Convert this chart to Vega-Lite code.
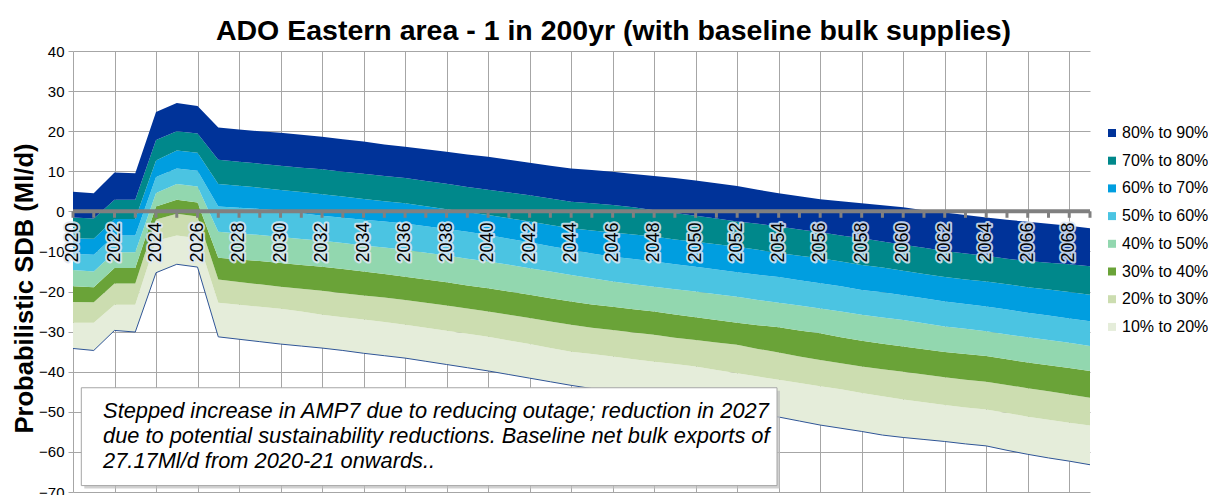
{
  "$schema": "https://vega.github.io/schema/vega-lite/v6.json",
  "width": 1017,
  "height": 441,
  "autosize": {"type": "none"},
  "padding": {"left": 73, "top": 51, "right": 118, "bottom": 3},
  "background": "white",
  "title": {
    "text": "ADO Eastern area - 1 in 200yr (with baseline bulk supplies)",
    "font": "Liberation Sans",
    "fontSize": 28.5,
    "fontWeight": "bold",
    "color": "#000000",
    "anchor": "middle",
    "dx": 32,
    "offset": -1
  },
  "config": {"font": "Liberation Sans", "view": {"stroke": null}},
  "datasets": {
    "sdb": [
      {"year": 2020, "p10": -34.2, "p20": -27.8, "p30": -22.6, "p40": -18.7, "p50": -14.6, "p60": -10.6, "p70": -6.7, "p80": -1.5, "p90": 4.9},
      {"year": 2021, "p10": -34.7, "p20": -27.8, "p30": -22.7, "p40": -18.9, "p50": -15.0, "p60": -10.8, "p70": -6.8, "p80": -1.8, "p90": 4.5},
      {"year": 2022, "p10": -29.7, "p20": -23.3, "p30": -18.0, "p40": -14.1, "p50": -10.2, "p60": -6.0, "p70": -1.9, "p80": 2.9, "p90": 9.7},
      {"year": 2023, "p10": -30.1, "p20": -23.3, "p30": -18.0, "p40": -14.1, "p50": -10.2, "p60": -6.0, "p70": -1.9, "p80": 2.9, "p90": 9.5},
      {"year": 2024, "p10": -15.3, "p20": -7.3, "p30": -2.0, "p40": 1.2, "p50": 4.6, "p60": 8.6, "p70": 12.7, "p80": 17.8, "p90": 24.8},
      {"year": 2025, "p10": -13.2, "p20": -6.0, "p30": -0.6, "p40": 2.9, "p50": 6.8, "p60": 10.7, "p70": 15.2, "p80": 20.0, "p90": 27.0},
      {"year": 2026, "p10": -13.9, "p20": -6.7, "p30": -1.3, "p40": 2.2, "p50": 6.2, "p60": 10.1, "p70": 14.6, "p80": 19.4, "p90": 26.3},
      {"year": 2027, "p10": -31.3, "p20": -22.8, "p30": -17.0, "p40": -11.6, "p50": -5.1, "p60": 1.2, "p70": 6.8, "p80": 12.9, "p90": 20.9},
      {"year": 2028, "p10": -31.9, "p20": -23.3, "p30": -17.6, "p40": -12.0, "p50": -5.5, "p60": 0.9, "p70": 6.4, "p80": 12.4, "p90": 20.4},
      {"year": 2029, "p10": -32.5, "p20": -23.8, "p30": -18.2, "p40": -12.4, "p50": -5.9, "p60": 0.6, "p70": 5.9, "p80": 11.9, "p90": 20.0},
      {"year": 2030, "p10": -33.1, "p20": -24.3, "p30": -18.8, "p40": -12.9, "p50": -6.4, "p60": 0.2, "p70": 5.3, "p80": 11.4, "p90": 19.6},
      {"year": 2031, "p10": -33.6, "p20": -25.0, "p30": -19.3, "p40": -13.4, "p50": -6.9, "p60": -0.5, "p70": 4.8, "p80": 10.9, "p90": 19.1},
      {"year": 2032, "p10": -34.1, "p20": -25.8, "p30": -19.8, "p40": -13.8, "p50": -7.3, "p60": -1.1, "p70": 4.3, "p80": 10.5, "p90": 18.6},
      {"year": 2033, "p10": -34.7, "p20": -26.4, "p30": -20.4, "p40": -14.4, "p50": -7.9, "p60": -1.6, "p70": 3.7, "p80": 9.9, "p90": 18.0},
      {"year": 2034, "p10": -35.4, "p20": -27.0, "p30": -21.0, "p40": -15.0, "p50": -8.5, "p60": -2.1, "p70": 3.1, "p80": 9.4, "p90": 17.4},
      {"year": 2035, "p10": -36.0, "p20": -27.6, "p30": -21.5, "p40": -15.6, "p50": -9.0, "p60": -2.5, "p70": 2.5, "p80": 8.8, "p90": 16.7},
      {"year": 2036, "p10": -36.6, "p20": -28.3, "p30": -22.1, "p40": -16.3, "p50": -9.6, "p60": -3.0, "p70": 2.0, "p80": 8.3, "p90": 16.1},
      {"year": 2037, "p10": -37.4, "p20": -29.0, "p30": -22.8, "p40": -17.0, "p50": -10.3, "p60": -3.7, "p70": 1.3, "p80": 7.6, "p90": 15.5},
      {"year": 2038, "p10": -38.2, "p20": -29.8, "p30": -23.5, "p40": -17.7, "p50": -11.0, "p60": -4.4, "p70": 0.5, "p80": 6.9, "p90": 14.9},
      {"year": 2039, "p10": -39.0, "p20": -30.5, "p30": -24.2, "p40": -18.5, "p50": -11.8, "p60": -5.1, "p70": -0.2, "p80": 6.1, "p90": 14.2},
      {"year": 2040, "p10": -39.8, "p20": -31.3, "p30": -25.0, "p40": -19.2, "p50": -12.5, "p60": -5.9, "p70": -0.9, "p80": 5.4, "p90": 13.6},
      {"year": 2041, "p10": -40.7, "p20": -32.2, "p30": -25.8, "p40": -20.0, "p50": -13.3, "p60": -6.8, "p70": -1.7, "p80": 4.7, "p90": 12.9},
      {"year": 2042, "p10": -41.6, "p20": -33.1, "p30": -26.6, "p40": -20.8, "p50": -14.2, "p60": -7.7, "p70": -2.5, "p80": 4.0, "p90": 12.1},
      {"year": 2043, "p10": -42.5, "p20": -34.1, "p30": -27.5, "p40": -21.7, "p50": -15.0, "p60": -8.7, "p70": -3.4, "p80": 3.2, "p90": 11.4},
      {"year": 2044, "p10": -43.4, "p20": -35.0, "p30": -28.3, "p40": -22.5, "p50": -15.9, "p60": -9.6, "p70": -4.2, "p80": 2.4, "p90": 10.7},
      {"year": 2045, "p10": -44.2, "p20": -35.6, "p30": -29.0, "p40": -23.2, "p50": -16.7, "p60": -10.5, "p70": -4.8, "p80": 2.0, "p90": 10.3},
      {"year": 2046, "p10": -45.0, "p20": -36.2, "p30": -29.6, "p40": -23.8, "p50": -17.5, "p60": -11.3, "p70": -5.3, "p80": 1.6, "p90": 9.9},
      {"year": 2047, "p10": -45.8, "p20": -36.9, "p30": -30.2, "p40": -24.4, "p50": -18.2, "p60": -11.9, "p70": -5.8, "p80": 1.0, "p90": 9.3},
      {"year": 2048, "p10": -46.6, "p20": -37.5, "p30": -30.8, "p40": -25.0, "p50": -18.8, "p60": -12.5, "p70": -6.3, "p80": 0.3, "p90": 8.8},
      {"year": 2049, "p10": -47.4, "p20": -38.1, "p30": -31.5, "p40": -25.7, "p50": -19.4, "p60": -13.2, "p70": -7.0, "p80": -0.4, "p90": 8.3},
      {"year": 2050, "p10": -48.2, "p20": -38.7, "p30": -32.1, "p40": -26.4, "p50": -20.0, "p60": -13.8, "p70": -7.6, "p80": -1.1, "p90": 7.7},
      {"year": 2051, "p10": -49.0, "p20": -39.6, "p30": -32.7, "p40": -27.1, "p50": -20.7, "p60": -14.5, "p70": -8.2, "p80": -1.8, "p90": 7.0},
      {"year": 2052, "p10": -49.8, "p20": -40.4, "p30": -33.3, "p40": -27.8, "p50": -21.3, "p60": -15.2, "p70": -8.8, "p80": -2.5, "p90": 6.3},
      {"year": 2053, "p10": -50.6, "p20": -41.2, "p30": -34.3, "p40": -28.4, "p50": -22.1, "p60": -15.8, "p70": -9.6, "p80": -3.1, "p90": 5.4},
      {"year": 2054, "p10": -51.3, "p20": -42.0, "p30": -35.2, "p40": -28.9, "p50": -22.8, "p60": -16.4, "p70": -10.4, "p80": -3.8, "p90": 4.5},
      {"year": 2055, "p10": -52.3, "p20": -42.8, "p30": -36.2, "p40": -29.7, "p50": -23.5, "p60": -17.2, "p70": -11.1, "p80": -4.5, "p90": 3.8},
      {"year": 2056, "p10": -53.3, "p20": -43.6, "p30": -37.1, "p40": -30.4, "p50": -24.2, "p60": -17.9, "p70": -11.7, "p80": -5.2, "p90": 3.0},
      {"year": 2057, "p10": -54.1, "p20": -44.4, "p30": -37.9, "p40": -31.4, "p50": -25.0, "p60": -18.7, "p70": -12.5, "p80": -6.0, "p90": 2.5},
      {"year": 2058, "p10": -54.9, "p20": -45.3, "p30": -38.7, "p40": -32.3, "p50": -25.8, "p60": -19.6, "p70": -13.4, "p80": -6.7, "p90": 2.0},
      {"year": 2059, "p10": -55.8, "p20": -46.1, "p30": -39.4, "p40": -33.0, "p50": -26.5, "p60": -20.2, "p70": -14.0, "p80": -7.5, "p90": 1.5},
      {"year": 2060, "p10": -56.4, "p20": -46.9, "p30": -40.0, "p40": -33.7, "p50": -27.1, "p60": -20.9, "p70": -14.8, "p80": -8.3, "p90": 1.0},
      {"year": 2061, "p10": -56.9, "p20": -47.6, "p30": -40.7, "p40": -34.4, "p50": -27.9, "p60": -21.7, "p70": -15.6, "p80": -9.1, "p90": 0.3},
      {"year": 2062, "p10": -57.4, "p20": -48.3, "p30": -41.4, "p40": -35.1, "p50": -28.7, "p60": -22.5, "p70": -16.4, "p80": -9.9, "p90": -0.3},
      {"year": 2063, "p10": -58.0, "p20": -48.9, "p30": -42.0, "p40": -35.6, "p50": -29.3, "p60": -23.1, "p70": -17.0, "p80": -10.5, "p90": -0.9},
      {"year": 2064, "p10": -58.5, "p20": -49.4, "p30": -42.5, "p40": -36.1, "p50": -29.9, "p60": -23.7, "p70": -17.5, "p80": -11.1, "p90": -1.5},
      {"year": 2065, "p10": -59.6, "p20": -50.3, "p30": -43.3, "p40": -36.9, "p50": -30.7, "p60": -24.5, "p70": -18.2, "p80": -11.8, "p90": -2.1},
      {"year": 2066, "p10": -60.6, "p20": -51.2, "p30": -44.1, "p40": -37.7, "p50": -31.4, "p60": -25.3, "p70": -18.9, "p80": -12.4, "p90": -2.6},
      {"year": 2067, "p10": -61.5, "p20": -52.0, "p30": -44.9, "p40": -38.4, "p50": -32.1, "p60": -26.0, "p70": -19.5, "p80": -12.8, "p90": -3.1},
      {"year": 2068, "p10": -62.3, "p20": -52.7, "p30": -45.7, "p40": -39.1, "p50": -32.8, "p60": -26.7, "p70": -20.1, "p80": -13.2, "p90": -3.6},
      {"year": 2069, "p10": -63.2, "p20": -53.4, "p30": -46.5, "p40": -39.8, "p50": -33.6, "p60": -27.4, "p70": -20.8, "p80": -13.7, "p90": -4.2}
    ],
    "note": [
      {
        "x0": 2020.4, "x1": 2053.92, "y0": -44.0, "y1": -68.4,
        "tx": 2021.45, "ty": -51.5,
        "text": [
          "Stepped increase in AMP7 due to reducing outage; reduction in 2027",
          "due to potential sustainability reductions. Baseline net bulk exports of",
          "27.17Ml/d from 2020-21 onwards.."
        ]
      }
    ]
  },
  "data": {"name": "sdb"},
  "layer": [
    {
      "mark": {"type": "area", "interpolate": "linear"},
      "encoding": {
        "x": {
          "field": "year", "type": "quantitative",
          "scale": {"domain": [2020, 2069], "nice": false, "zero": false},
          "axis": {
            "title": null, "labels": false, "ticks": false, "domain": false,
            "grid": true, "gridColor": "#a6a6a6", "gridWidth": 1,
            "values": [2020, 2021, 2022, 2023, 2024, 2025, 2026, 2027, 2028, 2029, 2030, 2031, 2032, 2033, 2034, 2035, 2036, 2037, 2038, 2039, 2040, 2041, 2042, 2043, 2044, 2045, 2046, 2047, 2048, 2049, 2050, 2051, 2052, 2053, 2054, 2055, 2056, 2057, 2058, 2059, 2060, 2061, 2062, 2063, 2064, 2065, 2066, 2067, 2068, 2069]
          }
        },
        "y": {
          "field": "p10", "type": "quantitative",
          "title": "Probabilistic  SDB (Ml/d)",
          "scale": {"domain": [-70, 40], "nice": false, "zero": false},
          "axis": {
            "titleFont": "Liberation Sans", "titleFontSize": 25.6, "titleFontWeight": "bold", "titleColor": "#000000",
            "titleAngle": 270, "titleAlign": "center", "titleBaseline": "middle",
            "titleX": -49, "titleY": 237,
            "values": [-70, -60, -50, -40, -30, -20, -10, 0, 10, 20, 30, 40],
            "grid": true, "gridColor": "#a6a6a6", "gridWidth": 1,
            "domain": false, "ticks": true, "tickColor": "#a6a6a6", "tickSize": 5,
            "labelFontSize": 15, "labelColor": "#000000", "labelPadding": 4
          }
        },
        "y2": {"field": "p20"},
        "color": {
          "datum": "10% to 20%",
          "scale": {
            "domain": ["80% to 90%", "70% to 80%", "60% to 70%", "50% to 60%", "40% to 50%", "30% to 40%", "20% to 30%", "10% to 20%"],
            "range": ["#003399", "#00888B", "#009EE0", "#4BC4E2", "#92D7AF", "#6AA338", "#CCDDB0", "#E5EDDA"]
          },
          "legend": {
            "orient": "none", "legendX": 1031, "legendY": 74, "title": null,
            "symbolType": "square", "symbolSize": 64, "symbolStrokeWidth": 0,
            "labelFontSize": 16, "labelColor": "#000000", "labelOffset": 2,
            "rowPadding": 11.7, "padding": 0
          }
        }
      }
    },
    {
      "mark": {"type": "area"},
      "encoding": {
        "x": {"field": "year", "type": "quantitative"},
        "y": {"field": "p20", "type": "quantitative", "title": "Probabilistic  SDB (Ml/d)"},
        "y2": {"field": "p30"},
        "color": {"datum": "20% to 30%"}
      }
    },
    {
      "mark": {"type": "area"},
      "encoding": {
        "x": {"field": "year", "type": "quantitative"},
        "y": {"field": "p30", "type": "quantitative", "title": "Probabilistic  SDB (Ml/d)"},
        "y2": {"field": "p40"},
        "color": {"datum": "30% to 40%"}
      }
    },
    {
      "mark": {"type": "area"},
      "encoding": {
        "x": {"field": "year", "type": "quantitative"},
        "y": {"field": "p40", "type": "quantitative", "title": "Probabilistic  SDB (Ml/d)"},
        "y2": {"field": "p50"},
        "color": {"datum": "40% to 50%"}
      }
    },
    {
      "mark": {"type": "area"},
      "encoding": {
        "x": {"field": "year", "type": "quantitative"},
        "y": {"field": "p50", "type": "quantitative", "title": "Probabilistic  SDB (Ml/d)"},
        "y2": {"field": "p60"},
        "color": {"datum": "50% to 60%"}
      }
    },
    {
      "mark": {"type": "area"},
      "encoding": {
        "x": {"field": "year", "type": "quantitative"},
        "y": {"field": "p60", "type": "quantitative", "title": "Probabilistic  SDB (Ml/d)"},
        "y2": {"field": "p70"},
        "color": {"datum": "60% to 70%"}
      }
    },
    {
      "mark": {"type": "area"},
      "encoding": {
        "x": {"field": "year", "type": "quantitative"},
        "y": {"field": "p70", "type": "quantitative", "title": "Probabilistic  SDB (Ml/d)"},
        "y2": {"field": "p80"},
        "color": {"datum": "70% to 80%"}
      }
    },
    {
      "mark": {"type": "area"},
      "encoding": {
        "x": {"field": "year", "type": "quantitative"},
        "y": {"field": "p80", "type": "quantitative", "title": "Probabilistic  SDB (Ml/d)"},
        "y2": {"field": "p90"},
        "color": {"datum": "80% to 90%"}
      }
    },
    {
      "mark": {"type": "line", "color": "#2F5597", "strokeWidth": 1},
      "encoding": {
        "x": {"field": "year", "type": "quantitative"},
        "y": {"field": "p10", "type": "quantitative", "title": "Probabilistic  SDB (Ml/d)"}
      }
    },
    {
      "transform": [{"filter": "datum.year == 2020"}],
      "mark": {"type": "rule", "color": "#808080", "strokeWidth": 4},
      "encoding": {"y": {"datum": 0}}
    },
    {
      "mark": {"type": "rule", "color": "#808080", "strokeWidth": 3},
      "encoding": {
        "x": {"field": "year", "type": "quantitative"},
        "y": {"datum": 0},
        "y2": {"datum": -1.6}
      }
    },
    {
      "transform": [{"filter": "datum.year % 2 == 0"}],
      "mark": {
        "type": "text", "angle": 270, "align": "right", "baseline": "middle", "dx": -11,
        "font": "Liberation Sans", "fontSize": 18,
        "fill": "#dfe8f4", "stroke": "#dfe8f4", "strokeWidth": 4, "strokeJoin": "round", "opacity": 0.85
      },
      "encoding": {
        "x": {"field": "year", "type": "quantitative"},
        "y": {"datum": 0},
        "text": {"field": "year", "type": "nominal"}
      }
    },
    {
      "transform": [{"filter": "datum.year % 2 == 0"}],
      "mark": {
        "type": "text", "angle": 270, "align": "right", "baseline": "middle", "dx": -11,
        "font": "Liberation Sans", "fontSize": 18, "color": "#000000"
      },
      "encoding": {
        "x": {"field": "year", "type": "quantitative"},
        "y": {"datum": 0},
        "text": {"field": "year", "type": "nominal"}
      }
    },
    {
      "data": {"name": "note"},
      "mark": {"type": "rect", "fill": "#bdbdbd", "opacity": 0.7, "xOffset": 3, "x2Offset": 3, "yOffset": 3, "y2Offset": 3},
      "encoding": {
        "x": {"field": "x0", "type": "quantitative"},
        "x2": {"field": "x1"},
        "y": {"field": "y0", "type": "quantitative"},
        "y2": {"field": "y1"}
      }
    },
    {
      "data": {"name": "note"},
      "mark": {"type": "rect", "fill": "#ffffff", "stroke": "#a6a6a6", "strokeWidth": 1},
      "encoding": {
        "x": {"field": "x0", "type": "quantitative"},
        "x2": {"field": "x1"},
        "y": {"field": "y0", "type": "quantitative"},
        "y2": {"field": "y1"}
      }
    },
    {
      "data": {"name": "note"},
      "mark": {
        "type": "text", "align": "left", "baseline": "alphabetic",
        "font": "Liberation Sans", "fontSize": 21.8, "fontStyle": "italic",
        "lineHeight": 25, "color": "#000000"
      },
      "encoding": {
        "x": {"field": "tx", "type": "quantitative"},
        "y": {"field": "ty", "type": "quantitative"},
        "text": {"field": "text"}
      }
    }
  ]
}
